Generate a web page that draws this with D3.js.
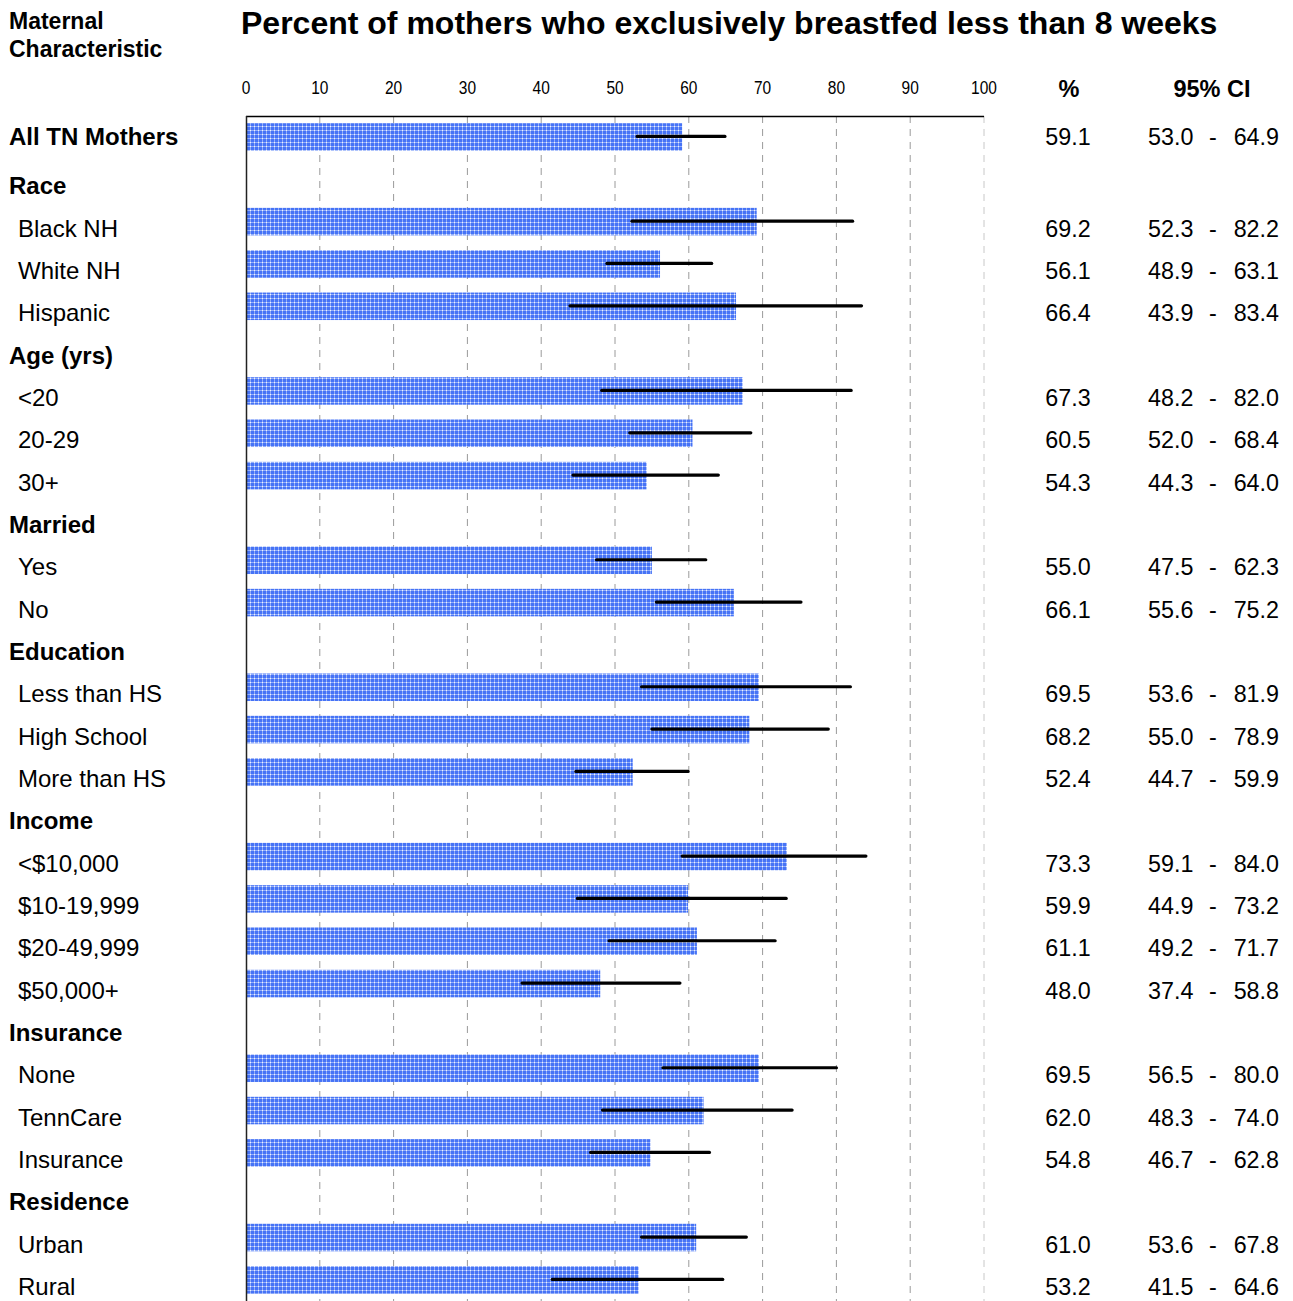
<!DOCTYPE html>
<html>
<head>
<meta charset="utf-8">
<script src="https://cdn.jsdelivr.net/npm/d3@7"></script>
<style>
body { margin: 0; background: #fff; }
svg { display: block; font-family: Arial, "Liberation Sans", sans-serif; }
</style>
</head>
<body>
<svg id="chart" width="1293" height="1301"></svg>
<script>
// Row labels (headers have null values)
const rowLabels = ["All TN Mothers","Race","Black NH","White NH","Hispanic","Age (yrs)","<20","20-29","30+","Married","Yes","No","Education","Less than HS","High School","More than HS","Income","<$10,000","$10-19,999","$20-49,999","$50,000+","Insurance","None","TennCare","Insurance","Residence","Urban","Rural"];
const rowTypes = ["total","header","item","item","item","header","item","item","item","header","item","item","header","item","item","item","header","item","item","item","item","header","item","item","item","header","item","item"];
const pctValues = [59.1,null,69.2,56.1,66.4,null,67.3,60.5,54.3,null,55.0,66.1,null,69.5,68.2,52.4,null,73.3,59.9,61.1,48.0,null,69.5,62.0,54.8,null,61.0,53.2];
const ciLow = [53.0,null,52.3,48.9,43.9,null,48.2,52.0,44.3,null,47.5,55.6,null,53.6,55.0,44.7,null,59.1,44.9,49.2,37.4,null,56.5,48.3,46.7,null,53.6,41.5];
const ciHigh = [64.9,null,82.2,63.1,83.4,null,82.0,68.4,64.0,null,62.3,75.2,null,81.9,78.9,59.9,null,84.0,73.2,71.7,58.8,null,80.0,74.0,62.8,null,67.8,64.6];
const tickValues = [0,10,20,30,40,50,60,70,80,90,100];

const svg = d3.select("#chart");
const x = d3.scaleLinear().domain([0,100]).range([246,984]);
const step = 42.33;
const y = d3.scaleBand().domain(d3.range(rowLabels.length)).range([115.8, 115.8 + 28*step]).padding(0);
const barH = 27.5;

// pattern
const defs = svg.append("defs");
const pat = defs.append("pattern").attr("id","dots").attr("patternUnits","userSpaceOnUse")
  .attr("width",4).attr("height",4);
pat.append("rect").attr("width",4).attr("height",4).attr("fill","#4673f6");
pat.append("rect").attr("x",2).attr("width",1).attr("height",4).attr("fill","#93aef9");
pat.append("rect").attr("y",2).attr("width",4).attr("height",1).attr("fill","#93aef9");
pat.append("rect").attr("x",2).attr("y",2).attr("width",1).attr("height",1).attr("fill","#eef2fe");

// title & headers
svg.append("text").attr("x",241).attr("y",34).attr("font-size",32).attr("font-weight","bold")
  .text("Percent of mothers who exclusively breastfed less than 8 weeks");
svg.append("text").attr("x",9).attr("y",29).attr("font-size",23).attr("font-weight","bold").text("Maternal");
svg.append("text").attr("x",9).attr("y",57).attr("font-size",23).attr("font-weight","bold").text("Characteristic");
svg.append("text").attr("x",1069).attr("y",97).attr("font-size",23.5).attr("font-weight","bold").attr("text-anchor","middle").text("%");
svg.append("text").attr("x",1212).attr("y",97).attr("font-size",23.5).attr("font-weight","bold").attr("text-anchor","middle").text("95% CI");

// tick labels (slightly tall type as in the reference)
svg.append("g").attr("transform","translate(0,94.3) scale(1,1.18)")
  .selectAll("text").data(tickValues).join("text")
  .attr("x", d => x(d)).attr("y", 0).attr("text-anchor","middle").attr("font-size",15.5)
  .text(d => d);

// gridlines
svg.append("g").selectAll("line").data(tickValues.filter(d => d > 0)).join("line")
  .attr("x1", d => x(d)).attr("x2", d => x(d)).attr("y1",116).attr("y2",1301)
  .attr("stroke", d => d === 100 ? "#c8c8c8" : "#9a9a9a").attr("stroke-width",1)
  .attr("stroke-dasharray","7,6");

// bars
const dataIdx = d3.range(rowLabels.length).filter(i => pctValues[i] !== null);
const cy = i => y(i) + y.bandwidth()/2;
svg.append("g").selectAll("rect").data(dataIdx).join("rect")
  .attr("x", x(0)).attr("y", i => cy(i) - barH/2)
  .attr("width", i => x(pctValues[i]) - x(0)).attr("height", barH)
  .attr("fill","url(#dots)");

// error bars
svg.append("g").selectAll("line").data(dataIdx).join("line")
  .attr("x1", i => x(ciLow[i])).attr("x2", i => x(ciHigh[i]))
  .attr("y1", i => cy(i) - 0.5).attr("y2", i => cy(i) - 0.5)
  .attr("stroke","#000").attr("stroke-width",3.2).attr("stroke-linecap","round");

// axes lines
svg.append("line").attr("x1",246).attr("x2",984).attr("y1",116.5).attr("y2",116.5).attr("stroke","#000").attr("stroke-width",1.3);
svg.append("line").attr("x1",246.5).attr("x2",246.5).attr("y1",116).attr("y2",1301).attr("stroke","#222").attr("stroke-width",1.5);

// row labels
const textY = i => cy(i) + (rowTypes[i] === "total" ? 8 : 15);
svg.append("g").selectAll("text").data(d3.range(rowLabels.length)).join("text")
  .attr("x", i => rowTypes[i] === "item" ? 18 : 9)
  .attr("y", textY)
  .attr("font-size", 24)
  .attr("font-weight", i => rowTypes[i] === "item" ? "normal" : "bold")
  .text(i => rowLabels[i]);

// right columns
const fmt = d3.format(".1f");
const rc = svg.append("g").attr("font-size",23.3);
rc.selectAll("text.pct").data(dataIdx).join("text").attr("class","pct")
  .attr("x",1068).attr("y",textY).attr("text-anchor","middle").text(i => fmt(pctValues[i]));
rc.selectAll("text.lo").data(dataIdx).join("text").attr("class","lo")
  .attr("x",1148).attr("y",textY).attr("text-anchor","start").text(i => fmt(ciLow[i]));
rc.selectAll("text.dash").data(dataIdx).join("text").attr("class","dash")
  .attr("x",1213).attr("y",textY).attr("text-anchor","middle").text("-");
rc.selectAll("text.hi").data(dataIdx).join("text").attr("class","hi")
  .attr("x",1279).attr("y",textY).attr("text-anchor","end").text(i => fmt(ciHigh[i]));
</script>
</body>
</html>
